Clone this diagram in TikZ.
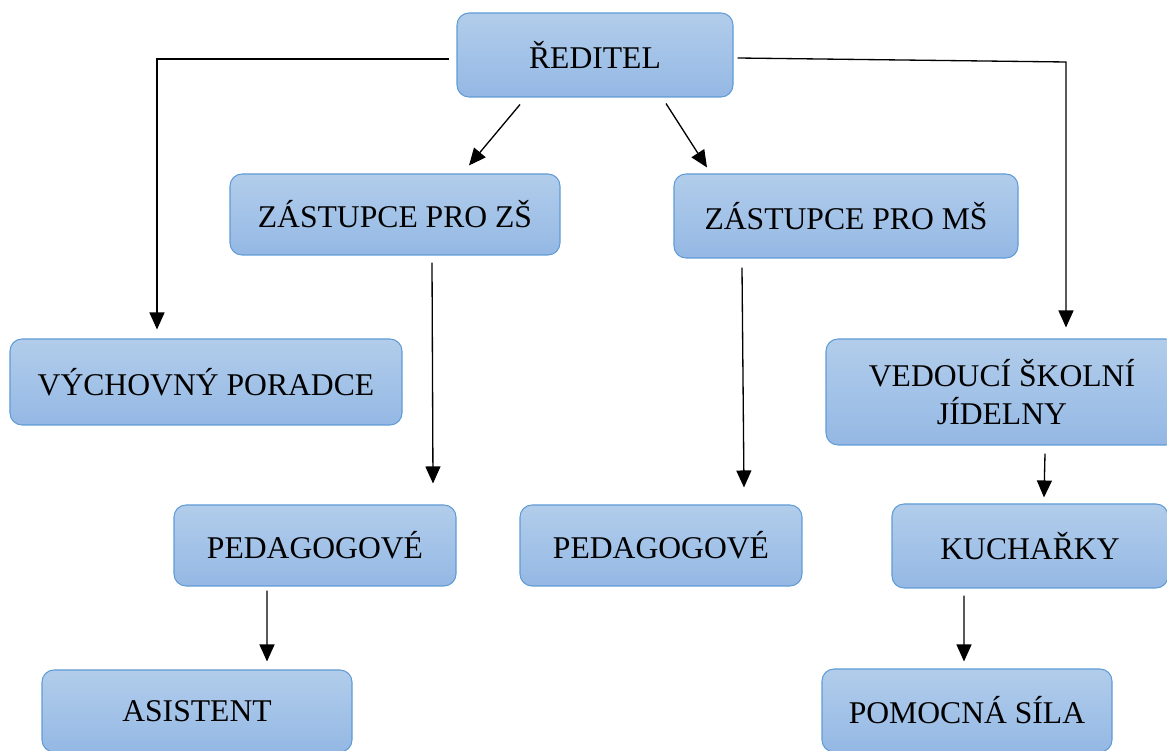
\documentclass[tikz,border=0pt]{standalone}
\usepackage{fontspec}
\setmainfont{Liberation Serif}
\usepackage{tikz}
\usetikzlibrary{arrows.meta, positioning}

\definecolor{boxtop}{RGB}{178,205,235}
\definecolor{boxbot}{RGB}{148,184,228}
\definecolor{boxline}{RGB}{95,155,213}

\begin{document}
\begin{tikzpicture}[
    box/.style={draw=boxline, line width=0.6pt, rounded corners=0.24cm,
      top color=boxtop, bottom color=boxbot, align=center,
      font=\fontsize{18}{22}\selectfont, inner sep=0pt},
    arr/.style={line width=0.75pt, -{Triangle[length=0.34cm, width=0.3cm]}}
  ]
        \useasboundingbox (0,0) rectangle (23.34,-15.02);
        \clip (0,0) rectangle (23.34,-15.02);

        % Nodes
        \node[box, minimum width=5.52cm, minimum height=1.68cm] (reditel) at (11.9,-1.1) {ŘEDITEL};
        \node[box, minimum width=6.6cm, minimum height=1.62cm] (zastZS) at (7.9,-4.29) {ZÁSTUPCE PRO ZŠ};
        \node[box, minimum width=6.88cm, minimum height=1.68cm] (zastMS) at (16.92,-4.32) {ZÁSTUPCE PRO MŠ};
        \node[box, minimum width=7.84cm, minimum height=1.72cm] (poradce) at (4.12,-7.64) {VÝCHOVNÝ PORADCE};
        \node[box, minimum width=7.04cm, minimum height=2.12cm] (vedouci) at (20.04,-7.84) {VEDOUCÍ ŠKOLNÍ\\JÍDELNY};
        \node[box, minimum width=5.64cm, minimum height=1.62cm] (pedZS) at (6.3,-10.91) {PEDAGOGOVÉ};
        \node[box, minimum width=5.64cm, minimum height=1.62cm] (pedMS) at (13.22,-10.91) {PEDAGOGOVÉ};
        \node[box, minimum width=5.52cm, minimum height=1.68cm] (kucharky) at (20.6,-10.92) {KUCHAŘKY};
        \node[box, minimum width=6.2cm, minimum height=1.64cm] (asistent) at (3.94,-14.22) {ASISTENT};
        \node[box, minimum width=5.8cm, minimum height=1.66cm] (pomocna) at (19.34,-14.21) {POMOCNÁ SÍLA};

        % Paths
        \draw[arr] ([xshift=-0.14cm, yshift=-0.08cm]reditel.west) -| ([xshift=-0.98cm, yshift=0.18cm]poradce.north);
        \coordinate (rcorner) at (21.32,-1.24);
        \draw[arr] ([xshift=0.08cm, yshift=-0.06cm]reditel.east) -- (rcorner) -- ([xshift=1.28cm, yshift=0.22cm]vedouci.north);
        \draw[arr] ([xshift=-1.5cm, yshift=-0.14cm]reditel.south) -- ([xshift=1.48cm, yshift=0.16cm]zastZS.north);
        \draw[arr] ([xshift=1.42cm, yshift=-0.12cm]reditel.south) -- ([xshift=-2.78cm, yshift=0.12cm]zastMS.north);
        \draw[arr] ([xshift=0.74cm, yshift=-0.14cm]zastZS.south) -- ([xshift=2.36cm, yshift=0.42cm]pedZS.north);
        \draw[arr] ([xshift=-2.08cm, yshift=-0.18cm]zastMS.south) -- ([xshift=1.66cm, yshift=0.34cm]pedMS.north);
        \draw[arr] ([xshift=0.86cm, yshift=-0.16cm]vedouci.south) -- ([xshift=0.28cm, yshift=0.12cm]kucharky.north);
        \draw[arr] ([xshift=-0.96cm, yshift=-0.08cm]pedZS.south) -- ([xshift=1.4cm, yshift=0.16cm]asistent.north);
        \draw[arr] ([xshift=-1.32cm, yshift=-0.14cm]kucharky.south) -- ([xshift=-0.06cm, yshift=0.14cm]pomocna.north);
    \end{tikzpicture}
\end{document}
